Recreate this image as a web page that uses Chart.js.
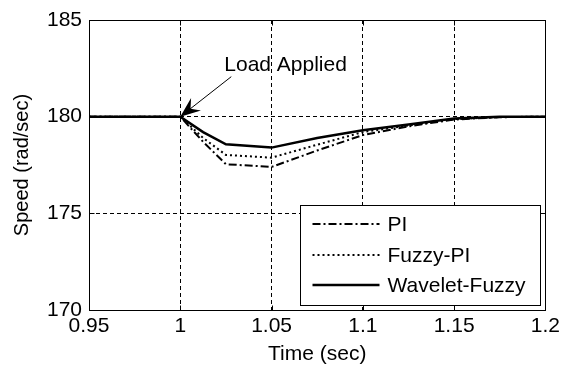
<!DOCTYPE html>
<html>
<head>
<meta charset="utf-8">
<script src="https://cdn.jsdelivr.net/npm/chart.js@4"></script>
<style>
  html, body { margin: 0; padding: 0; background: #fff; }
  canvas { display: block; }
</style>
</head>
<body>
<canvas id="chartSpeed" width="564" height="369"></canvas>
<script>
// -- dados --
const tempo = [0.95, 1, 1.0125, 1.025, 1.05, 1.075, 1.1, 1.125, 1.15, 1.175, 1.2];
const velPI = [180, 180, 178.7, 177.54, 177.4, 178.25, 179.05, 179.5, 179.85, 179.97, 180];
const velFuzzyPI = [180, 180, 178.9, 178.02, 177.88, 178.55, 179.2, 179.55, 179.87, 179.98, 180];
const velWavelet = [180, 180, 179.2, 178.57, 178.4, 178.9, 179.3, 179.6, 179.9, 180, 180];

const seriesNomes = ['PI', 'Fuzzy-PI', 'Wavelet-Fuzzy'];
const ticksX = [0.95, 1, 1.05, 1.1, 1.15, 1.2];
const ticksY = [170, 175, 180, 185];

const fonte = '"Liberation Sans", Arial, sans-serif';
const ctx = document.getElementById('chartSpeed').getContext('2d');

function pontos(vals) {
  return tempo.map((t, i) => ({ x: t, y: vals[i] }));
}

const estilos = [
  { dash: [8, 3, 2, 3], width: 2 },
  { dash: [2, 3], width: 2 },
  { dash: [], width: 2.5 },
];

// moldura, ticks internos, legenda e anotação
const extras = {
  id: 'extras',
  afterDatasetsDraw(chart) {
    const c = chart.ctx;
    const a = chart.chartArea;
    const sx = chart.scales.x;
    const sy = chart.scales.y;
    const L = Math.round(a.left) + 0.5, R = Math.round(a.right) + 0.5;
    const T = Math.round(a.top) + 0.5, B = Math.round(a.bottom) + 0.5;

    c.save();
    c.strokeStyle = '#000';
    c.lineWidth = 1;
    c.setLineDash([]);

    // legenda
    const lx = Math.round(a.right) - 245 + 0.5, ly = Math.round(a.bottom) - 105 + 0.5;
    c.fillStyle = '#fff';
    c.fillRect(lx, ly, 240, 100);
    c.strokeRect(lx, ly, 240, 100);
    const linhas = [18, 49, 79];
    c.font = '21px ' + fonte;
    c.textBaseline = 'middle';
    c.textAlign = 'left';
    chart.data.datasets.forEach((ds, i) => {
      const yy = Math.round(ly + linhas[i]);
      c.save();
      c.lineWidth = ds.borderWidth;
      c.setLineDash(ds.borderDash);
      c.beginPath();
      c.moveTo(lx + 12, yy);
      c.lineTo(lx + 79, yy);
      c.stroke();
      c.restore();
      c.fillStyle = '#000';
      c.fillText(ds.label, lx + 87, yy + 1);
    });

    // ticks internos nos quatro lados
    c.beginPath();
    ticksX.forEach(v => {
      const px = Math.round(sx.getPixelForValue(v)) + 0.5;
      c.moveTo(px, B); c.lineTo(px, B - 5);
      c.moveTo(px, T); c.lineTo(px, T + 5);
    });
    ticksY.forEach(v => {
      const py = Math.round(sy.getPixelForValue(v)) + 0.5;
      c.moveTo(L, py); c.lineTo(L + 5, py);
      c.moveTo(R, py); c.lineTo(R - 5, py);
    });
    c.stroke();

    // moldura
    c.strokeRect(L, T, R - L, B - T);

    // anotação "Load Applied"
    const ax = sx.getPixelForValue(1), ay = sy.getPixelForValue(180);
    c.fillStyle = '#000';
    c.textBaseline = 'alphabetic';
    c.fillText('Load Applied', ax + 44, ay - 46);
    const x0 = ax + 51, y0 = ay - 40;
    const ang = Math.atan2(ay - y0, ax - x0);
    c.beginPath();
    c.moveTo(x0, y0);
    c.lineTo(ax, ay);
    c.stroke();
    c.beginPath();
    c.moveTo(ax, ay);
    c.lineTo(ax - 20 * Math.cos(ang) + 8 * Math.sin(ang), ay - 20 * Math.sin(ang) - 8 * Math.cos(ang));
    c.lineTo(ax - 13 * Math.cos(ang), ay - 13 * Math.sin(ang));
    c.lineTo(ax - 20 * Math.cos(ang) - 8 * Math.sin(ang), ay - 20 * Math.sin(ang) + 8 * Math.cos(ang));
    c.closePath();
    c.fill();
    c.restore();
  }
};

const chartSpeed = new Chart(ctx, {
  type: 'line',
  data: {
    datasets: [
      { label: seriesNomes[0], data: pontos(velPI), order: 2 },
      { label: seriesNomes[1], data: pontos(velFuzzyPI), order: 1 },
      { label: seriesNomes[2], data: pontos(velWavelet), order: 0 },
    ].map((ds, i) => Object.assign(ds, {
      borderColor: '#000',
      borderWidth: estilos[i].width,
      borderDash: estilos[i].dash,
      pointRadius: 0,
      tension: 0,
      fill: false,
    }))
  },
  options: {
    responsive: false,
    animation: false,
    layout: { padding: { top: 20, right: 16, left: 0, bottom: 0 } },
    plugins: {
      legend: { display: false },
      tooltip: { enabled: false },
    },
    scales: {
      x: {
        type: 'linear',
        min: 0.95,
        max: 1.2,
        afterBuildTicks: s => { s.ticks = ticksX.map(v => ({ value: v })); },
        afterFit: s => { s.height = 59; },
        ticks: {
          color: '#000',
          font: { family: fonte, size: 21 },
          padding: 4,
          maxRotation: 0,
          autoSkip: false,
          callback: v => String(parseFloat(Number(v).toFixed(2))),
        },
        grid: { color: '#000', lineWidth: 1, drawTicks: false },
        border: { display: false, dash: [4, 3] },
        title: {
          display: true,
          text: 'Time (sec)',
          color: '#000',
          font: { family: fonte, size: 21 },
          padding: { top: 0, bottom: 2 },
        },
      },
      y: {
        min: 170,
        max: 185,
        afterBuildTicks: s => { s.ticks = ticksY.map(v => ({ value: v })); },
        afterFit: s => { s.width = 89; },
        ticks: {
          color: '#000',
          font: { family: fonte, size: 21 },
          padding: 7,
          autoSkip: false,
        },
        grid: { color: '#000', lineWidth: 1, drawTicks: false },
        border: { display: false, dash: [4, 3] },
        title: {
          display: true,
          text: 'Speed (rad/sec)',
          color: '#000',
          font: { family: fonte, size: 20 },
          padding: { top: 10, bottom: 0 },
        },
      },
    },
  },
  plugins: [extras],
});
</script>
</body>
</html>
